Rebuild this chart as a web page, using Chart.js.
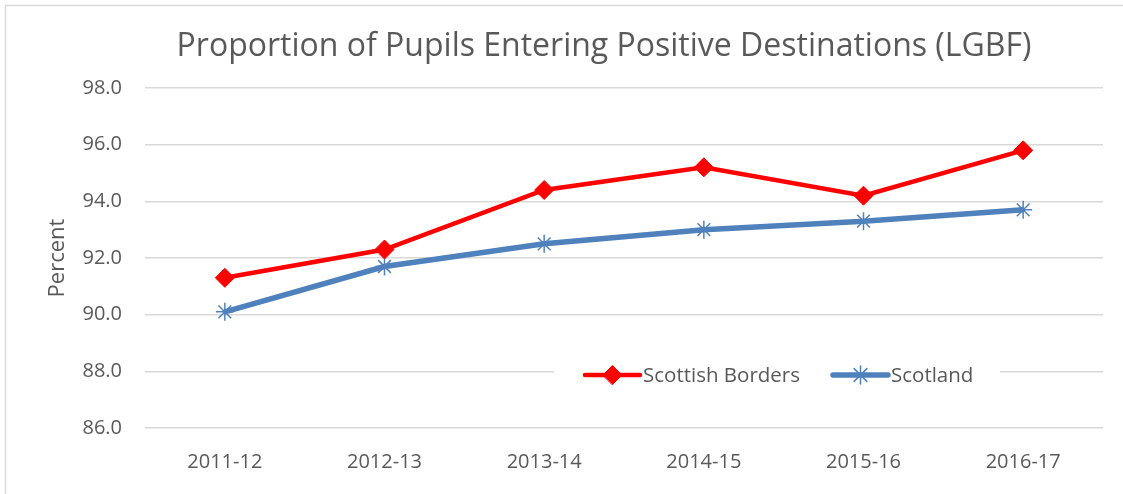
<!DOCTYPE html>
<html lang="en">
<head>
  <meta charset="UTF-8">
  <title>Proportion of Pupils Entering Positive Destinations (LGBF)</title>
  <script src="https://cdn.jsdelivr.net/npm/chart.js"></script>
  <style>
    html, body { margin:0; padding:0; background:#fff; }
    #wrap { width:1123px; height:494px; position:relative; }
  </style>
</head>
<body>
<div id="wrap"><canvas id="chart" width="1123" height="494"></canvas></div>
<script>
// data
const years = ['2011-12', '2012-13', '2013-14', '2014-15', '2015-16', '2016-17'];
const borders = [91.3, 92.3, 94.4, 95.2, 94.2, 95.8];
const scotland = [90.1, 91.7, 92.5, 93.0, 93.3, 93.7];
const yTicks = [86, 88, 90, 92, 94, 96, 98];

const FONT = "'Open Sans', sans-serif";
const GREY = '#595959';
const RED = '#ff0000';
const BLUE = '#4f81bd';

// outer border + title + in-plot legend
const decor = {
  id: 'decor',
  beforeDraw(c) {
    const ctx = c.ctx;
    ctx.save();
    ctx.fillStyle = '#fff';
    ctx.fillRect(0, 0, c.width, c.height);
    ctx.strokeStyle = '#d9d9d9';
    ctx.lineWidth = 1.5;
    ctx.beginPath();
    ctx.moveTo(5.5, 494); ctx.lineTo(5.5, 5.5); ctx.lineTo(1123, 5.5);
    ctx.stroke();
    ctx.fillStyle = GREY;
    ctx.font = '32px ' + FONT;
    ctx.textAlign = 'center';
    ctx.textBaseline = 'alphabetic';
    ctx.fillText('Proportion of Pupils Entering Positive Destinations (LGBF)', 604, 56);
    ctx.restore();
  },
  afterDatasetsDraw(c) {
    const ctx = c.ctx;
    ctx.save();
    ctx.fillStyle = '#fff';
    ctx.fillRect(554, 356, 446, 38);
    const items = [
      { x: 585, text: 'Scottish Borders', ds: 0 },
      { x: 833, text: 'Scotland', ds: 1 }
    ];
    const y = 375;
    items.forEach(it => {
      const d = c.data.datasets[it.ds];
      ctx.strokeStyle = d.borderColor;
      ctx.lineWidth = d.borderWidth;
      ctx.lineCap = 'round';
      ctx.beginPath();
      ctx.moveTo(it.x, y); ctx.lineTo(it.x + 55, y);
      ctx.stroke();
      ctx.fillStyle = d.pointBackgroundColor;
      ctx.strokeStyle = d.pointBorderColor;
      ctx.lineWidth = d.pointBorderWidth;
      Chart.helpers.drawPoint(ctx, {
        pointStyle: d.pointStyle, radius: d.pointRadius, rotation: 0,
        borderWidth: d.pointBorderWidth
      }, it.x + 27.5, y);
      ctx.fillStyle = GREY;
      ctx.font = '20.5px ' + FONT;
      ctx.textAlign = 'left';
      ctx.textBaseline = 'middle';
      ctx.fillText(it.text, it.x + 58, y + 1);
    });
    ctx.restore();
  }
};

new Chart(document.getElementById('chart'), {
  type: 'line',
  data: {
    labels: years,
    datasets: [
      {
        label: 'Scottish Borders', data: borders,
        borderColor: RED, backgroundColor: RED, borderWidth: 4.5,
        pointStyle: 'rectRot', pointRadius: 9.5, pointBorderWidth: 1,
        pointBackgroundColor: RED, pointBorderColor: RED, tension: 0
      },
      {
        label: 'Scotland', data: scotland,
        borderColor: BLUE, backgroundColor: BLUE, borderWidth: 5.5,
        pointStyle: 'star', pointRadius: 9, pointBorderWidth: 1.5,
        pointBackgroundColor: BLUE, pointBorderColor: BLUE, tension: 0
      }
    ]
  },
  options: {
    responsive: false,
    animation: false,
    layout: { padding: { left: 45, right: 20, top: 88, bottom: 0 } },
    plugins: { legend: { display: false }, title: { display: false }, tooltip: { enabled: false } },
    scales: {
      x: {
        offset: true,
        grid: { display: false },
        border: { display: false },
        ticks: { color: GREY, font: { family: FONT, size: 20 }, padding: 14, maxRotation: 0 },
        afterFit(s) { s.height = 66; }
      },
      y: {
        min: 86, max: 98,
        afterBuildTicks(s) { s.ticks = yTicks.map(v => ({ value: v })); },
        grid: { color: '#d9d9d9', lineWidth: 1.5, drawTicks: false },
        border: { display: false },
        ticks: {
          color: GREY, font: { family: FONT, size: 20 }, padding: 23,
          callback: v => Number(v).toFixed(1)
        },
        title: { display: true, text: 'Percent', color: GREY, font: { family: FONT, size: 22 }, padding: { top: 0, bottom: 0 } },
        afterFit(s) { s.width = 100; }
      }
    }
  },
  plugins: [decor]
});
</script>
</body>
</html>
